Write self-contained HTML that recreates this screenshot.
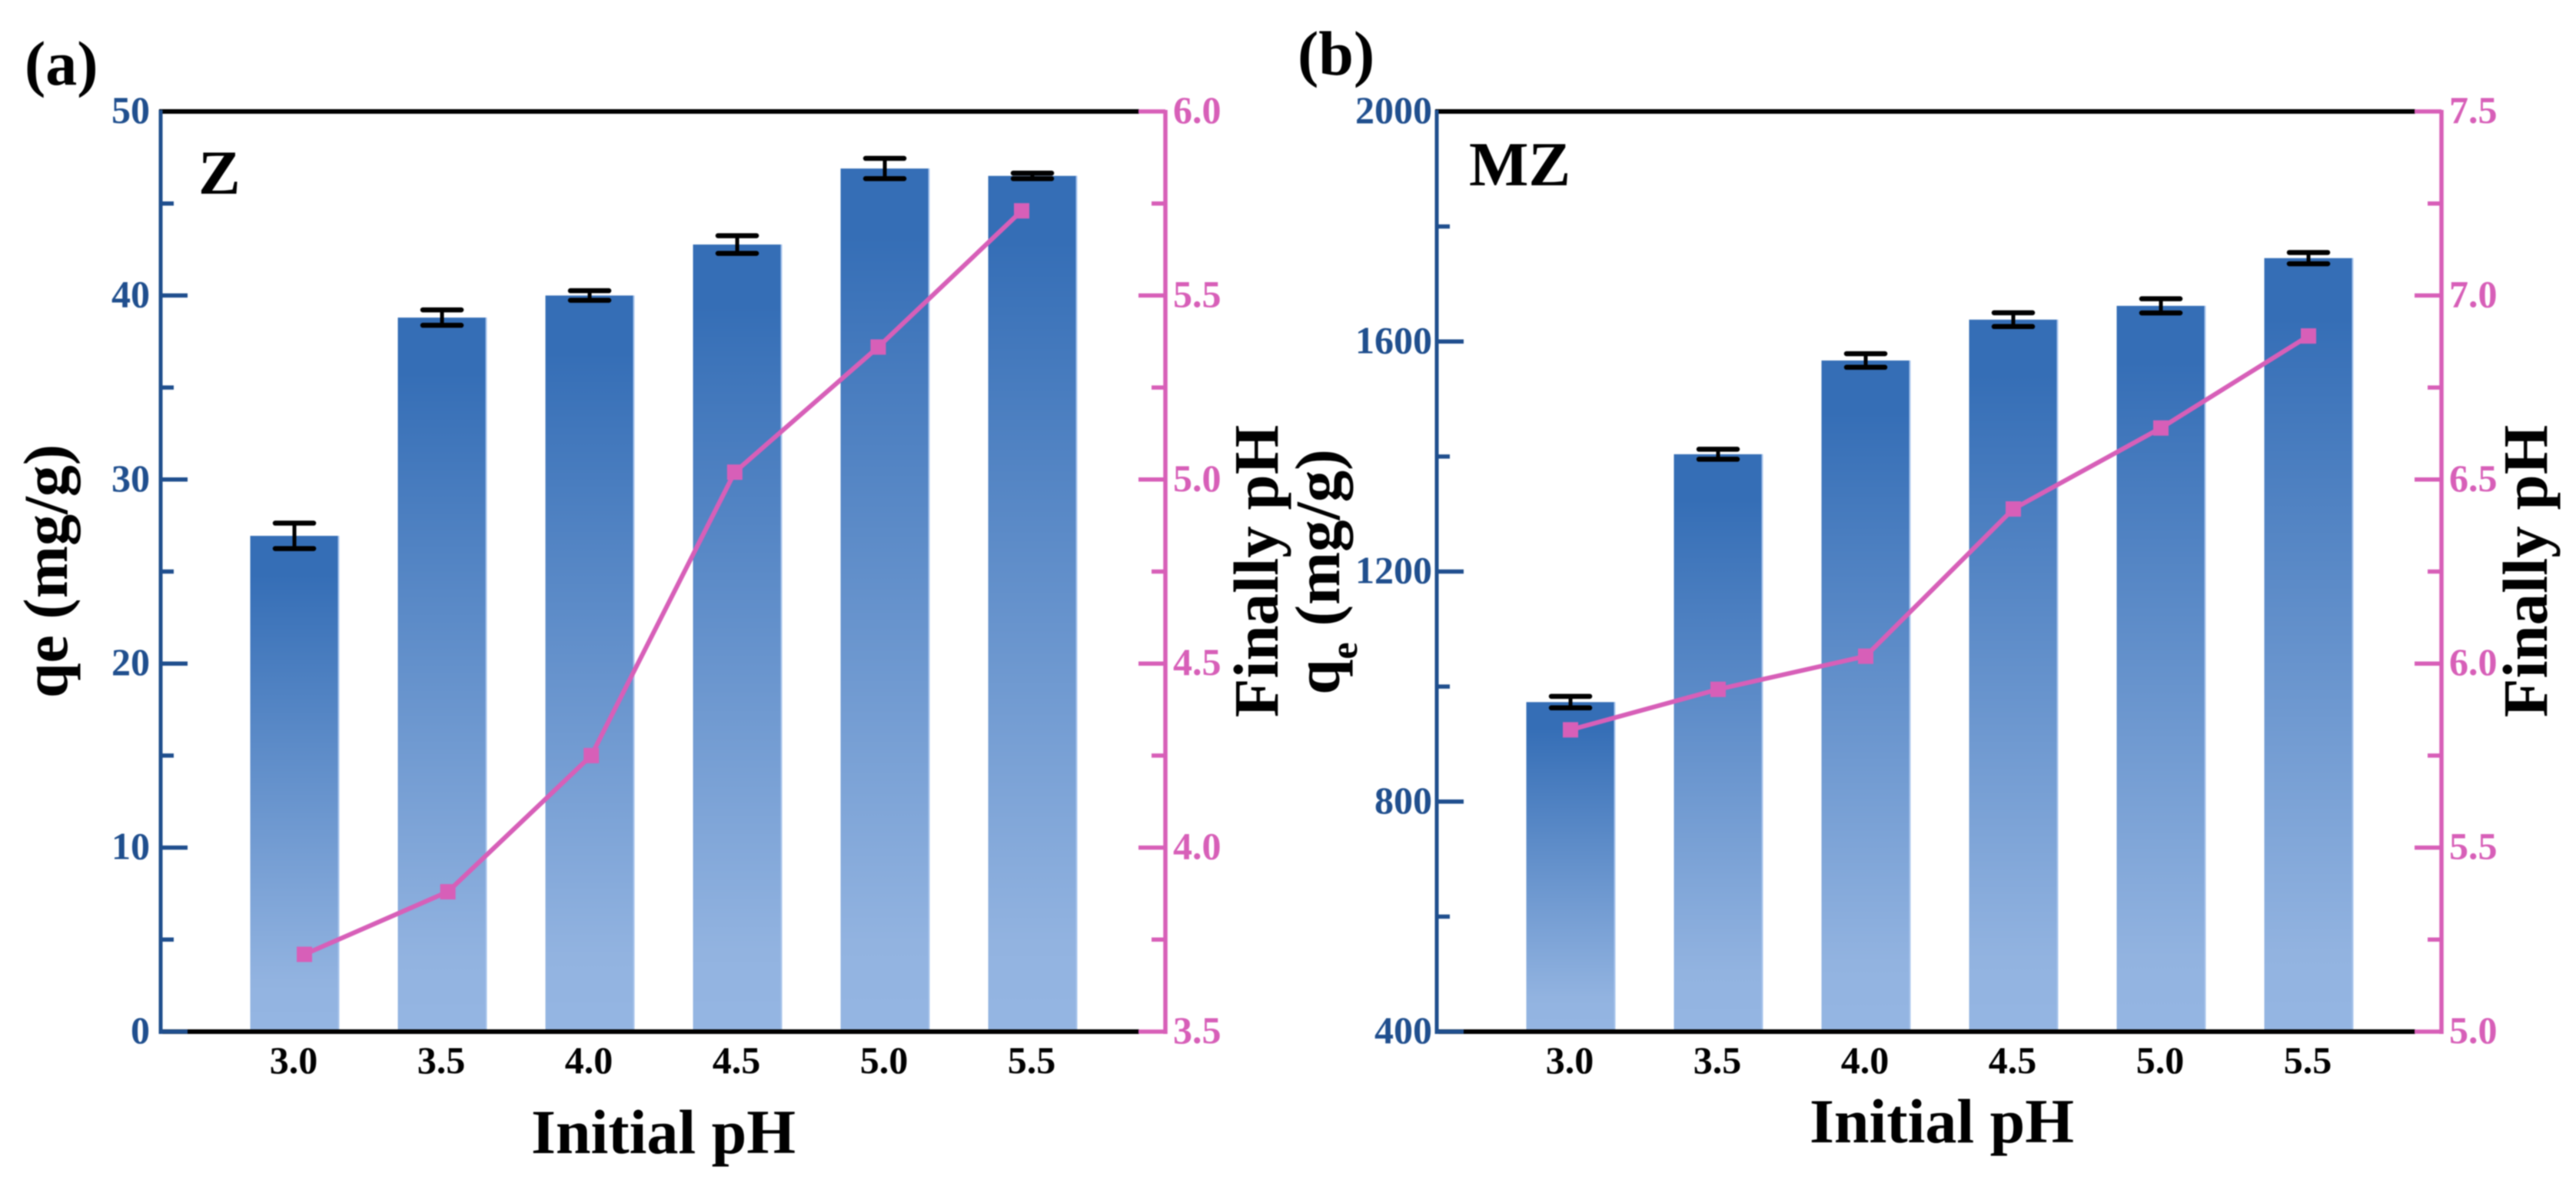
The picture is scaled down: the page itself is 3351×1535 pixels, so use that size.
<!DOCTYPE html>
<html lang="en">
<head>
<meta charset="utf-8">
<title>Initial pH vs qe and final pH</title>
<style>
  html,body{margin:0;padding:0;background:#fff;}
  svg{display:block;filter:blur(0.7px);}
  text{font-family:"Liberation Serif",serif;font-weight:bold;}
</style>
</head>
<body>
<svg id="figure" xmlns="http://www.w3.org/2000/svg" width="3351" height="1535" viewBox="0 0 3351 1535">
  <defs>
    <linearGradient id="barFill" x1="0" y1="0" x2="0" y2="1">
      <stop offset="0" stop-color="#356eb6"/>
      <stop offset="0.08" stop-color="#356eb6"/>
      <stop offset="0.9" stop-color="#92b3e0"/>
      <stop offset="1" stop-color="#94b5e2"/>
    </linearGradient>
  </defs>
  <rect x="0" y="0" width="3351" height="1535" fill="#ffffff"/>
  <g id="panelA"></g>
  <g id="panelB"></g>

  <text x="32" y="110" font-size="82" fill="#000">(a)</text>
  <text x="1688" y="97" font-size="82" fill="#000">(b)</text>
  <text x="258" y="252" font-size="82" fill="#000">Z</text>
  <text x="1911" y="241" font-size="82" fill="#000">MZ</text>

  <text x="863" y="1500" font-size="82" fill="#000" text-anchor="middle">Initial pH</text>
  <text x="2526" y="1486" font-size="82" fill="#000" text-anchor="middle">Initial pH</text>

  <text transform="translate(87 743) rotate(-90)" font-size="82" fill="#000" text-anchor="middle">qe (mg/g)</text>
  <text transform="translate(1662 743) rotate(-90)" font-size="83" fill="#000" text-anchor="middle">Finally pH</text>
  <text transform="translate(1742 744) rotate(-90)" font-size="83" fill="#000" text-anchor="middle">q<tspan font-size="50" dy="23">e</tspan><tspan dy="-23"> (mg/g)</tspan></text>
  <text transform="translate(3313 743) rotate(-90)" font-size="83" fill="#000" text-anchor="middle">Finally pH</text>
</svg>

<script>
// ---- chart data ----
const categories = ["3.0", "3.5", "4.0", "4.5", "5.0", "5.5"];

const zQe = [26.94, 38.8, 40.0, 42.77, 46.9, 46.5];
const zQeErr = [0.69, 0.42, 0.26, 0.48, 0.55, 0.15];
const zFinalPh = [3.71, 3.88, 4.25, 5.02, 5.36, 5.73];

const mzQe = [973, 1404, 1567, 1638, 1662, 1745];
const mzQeErr = [10, 8.7, 11.8, 12, 12.3, 9.8];
const mzFinalPh = [5.82, 5.93, 6.02, 6.42, 6.64, 6.89];

const zLeftTicks = ["0", "10", "20", "30", "40", "50"];
const zRightTicks = ["3.5", "4.0", "4.5", "5.0", "5.5", "6.0"];
const mzLeftTicks = ["400", "800", "1200", "1600", "2000"];
const mzRightTicks = ["5.0", "5.5", "6.0", "6.5", "7.0", "7.5"];

// ---- drawing ----
const NS = "http://www.w3.org/2000/svg";
const BLUE = "#204f8e";
const PINK = "#d75fb8";
const TOP = 145;
const BOTTOM = 1342;

function mk(parent, tag, attrs, txt) {
  const el = document.createElementNS(NS, tag);
  for (const k in attrs) el.setAttribute(k, attrs[k]);
  if (txt !== undefined) el.textContent = txt;
  parent.appendChild(el);
  return el;
}

function linearScale(d0, d1, r0, r1) {
  return v => r0 + (v - d0) * (r1 - r0) / (d1 - d0);
}

function drawPanel(cfg) {
  const g = document.getElementById(cfg.id);
  const yLeft = linearScale(+cfg.leftTicks[0], +cfg.leftTicks[cfg.leftTicks.length - 1], BOTTOM, TOP);
  const yRight = linearScale(+cfg.rightTicks[0], +cfg.rightTicks[cfg.rightTicks.length - 1], BOTTOM, TOP);
  const xBar = i => cfg.barX0 + cfg.barStep * i;
  const xLine = i => cfg.lineX0 + cfg.lineStep * i;
  const barW = 115;

  // bars
  cfg.values.forEach((v, i) => {
    const y = yLeft(v);
    const bar = mk(g, "rect", {x: xBar(i) - barW / 2, y: y, width: barW, height: BOTTOM - y, fill: "url(#barFill)"});
    
    
    const edge = mk(g, "rect", {x: xBar(i) + barW / 2 - 1, y: y, width: 2, height: BOTTOM - y, fill: "#a9c5ec"});
    
    
  });

  // error bars
  cfg.values.forEach((v, i) => {
    const hi = yLeft(v + cfg.errors[i]);
    const lo = yLeft(v - cfg.errors[i]);
    const cx = xBar(i);
    const eg = mk(g, "g", {stroke: "#000", fill: "none"});
    
    
    mk(eg, "line", {x1: cx, x2: cx, y1: hi, y2: lo, "stroke-width": 5});
    mk(eg, "line", {x1: cx - 25, x2: cx + 25, y1: hi, y2: hi, "stroke-width": 6.5, "stroke-linecap": "round"});
    mk(eg, "line", {x1: cx - 25, x2: cx + 25, y1: lo, y2: lo, "stroke-width": 6.5, "stroke-linecap": "round"});
  });

  // horizontal black axes
  const frameL = cfg.leftX - 2, frameR = cfg.rightX - 34;
  [TOP, BOTTOM].forEach((y, n) => {
    const ln = mk(g, "line", {x1: frameL, x2: frameR, y1: y, y2: y, stroke: "#000", "stroke-width": 6});
    
    
  });

  // left axis
  const leftAxis = mk(g, "line", {x1: cfg.leftX, x2: cfg.leftX, y1: TOP - 2, y2: BOTTOM + 3, stroke: BLUE, "stroke-width": 5});
  
  
  cfg.leftTicks.forEach((t, i) => {
    const v = +t, y = yLeft(v);
    if (i < cfg.leftTicks.length - 1) {
      const tick = mk(g, "line", {x1: cfg.leftX, x2: cfg.leftX + 35, y1: y, y2: y, stroke: BLUE, "stroke-width": 5.5});
      
      
      const next = +cfg.leftTicks[i + 1];
      const my = yLeft((v + next) / 2);
      const minor = mk(g, "line", {x1: cfg.leftX, x2: cfg.leftX + 17, y1: my, y2: my, stroke: BLUE, "stroke-width": 5.5});
      
      
    }
    const lab = mk(g, "text", {x: cfg.leftX - cfg.leftLabelGap, y: y + 15, "font-size": 50, fill: BLUE, "text-anchor": "end"}, t);
    
    
  });

  // right axis
  const rightAxis = mk(g, "line", {x1: cfg.rightX, x2: cfg.rightX, y1: TOP - 2, y2: BOTTOM + 3, stroke: PINK, "stroke-width": 5.5});
  
  
  cfg.rightTicks.forEach((t, i) => {
    const v = +t, y = yRight(v);
    const tick = mk(g, "line", {x1: cfg.rightX - 35, x2: cfg.rightX, y1: y, y2: y, stroke: PINK, "stroke-width": 5.5});
    
    
    if (i < cfg.rightTicks.length - 1) {
      const my = yRight((v + +cfg.rightTicks[i + 1]) / 2);
      const minor = mk(g, "line", {x1: cfg.rightX - 18, x2: cfg.rightX, y1: my, y2: my, stroke: PINK, "stroke-width": 5.5});
      
      
    }
    const lab = mk(g, "text", {x: cfg.rightX + 10, y: y + 15, "font-size": 50, fill: PINK}, t);
    
    
  });

  // x tick labels
  categories.forEach((c, i) => {
    const lab = mk(g, "text", {x: xBar(i) - 1, y: 1396, "font-size": 50, fill: "#000", "text-anchor": "middle"}, c);
    
    
  });

  // final pH line
  const pts = cfg.finalPh.map((v, i) => xLine(i) + "," + yRight(v)).join(" ");
  const line = mk(g, "polyline", {points: pts, fill: "none", stroke: PINK, "stroke-width": 6, "stroke-linejoin": "round"});
  
  
  cfg.finalPh.forEach((v, i) => {
    const s = 20;
    const m = mk(g, "rect", {x: xLine(i) - s / 2, y: yRight(v) - s / 2, width: s, height: s, fill: PINK});
    
    
  });
}

drawPanel({id: "panelA", leftX: 209, rightX: 1516, barX0: 383, barStep: 192, lineX0: 396, lineStep: 186.6,
  leftLabelGap: 14, values: zQe, errors: zQeErr, finalPh: zFinalPh, leftTicks: zLeftTicks, rightTicks: zRightTicks});
drawPanel({id: "panelB", leftX: 1869, rightX: 3176, barX0: 2043, barStep: 192, lineX0: 2043, lineStep: 192,
  leftLabelGap: 6, values: mzQe, errors: mzQeErr, finalPh: mzFinalPh, leftTicks: mzLeftTicks, rightTicks: mzRightTicks});
</script>
</body>
</html>
